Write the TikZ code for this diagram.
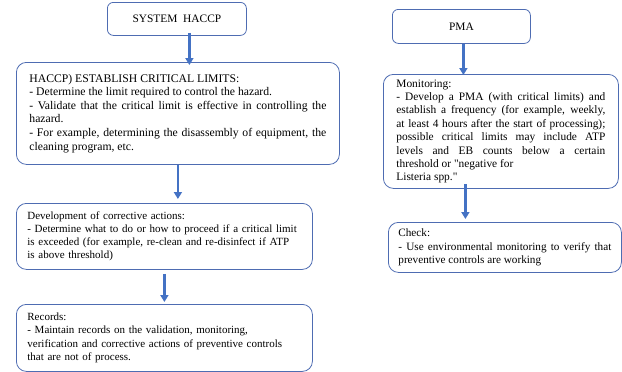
\documentclass[tikz,border=0pt]{standalone}
\usepackage{fontspec}
\setmainfont{Liberation Serif}[Ligatures=TeXOff]
\usetikzlibrary{%
	arrows.meta,%
	calc
}
\definecolor{haccpblue}{RGB}{68,114,196}
\definecolor{boxline}{RGB}{78,108,178}

\tikzset{
	stepbox/.style={draw=boxline,line width=0.8pt,rounded corners=10pt,
		anchor=north west,inner ysep=0pt,font=\fontsize{11.4}{13.4}\selectfont},
	smalltext/.style={font=\fontsize{11}{13.2}\selectfont},
	bigtext/.style={font=\fontsize{11.7}{13.6}\selectfont},
	flow/.style={haccpblue,line width=2.6pt,-{Triangle[width=8pt,length=7pt]}}
}

\begin{document}
\begin{tikzpicture}[x=1pt,y=-1pt]
		\useasboundingbox (0,0) rectangle (622,372);
		% Left column: HACCP
		\node[stepbox,rounded corners=6pt,minimum width=139pt,minimum height=33pt,inner xsep=0pt] (sys) at (107,2) {SYSTEM\ \ HACCP};
		\node[stepbox,bigtext,minimum width=323pt,minimum height=102pt,inner xsep=13pt,text width=297pt,align=justify] (est) at (16,62)
			{HACCP) ESTABLISH CRITICAL LIMITS:\\
			- Determine the limit required to control the hazard.\\
			- Validate that the critical limit is effective in controlling the\linebreak
			hazard.\\
			- For example, determining the disassembly of equipment, the\linebreak
			cleaning program, etc.};
		\node[stepbox,smalltext,minimum width=296pt,minimum height=66pt,inner xsep=11pt,text width=274pt,align=left] (corr) at (16,203)
			{Development of corrective actions:\\
			- Determine what to do or how to proceed if a critical limit\\
			is exceeded (for example, re-clean and re-disinfect if ATP\\
			is above threshold)};
		\node[stepbox,smalltext,minimum width=296pt,minimum height=67pt,inner xsep=11pt,text width=274pt,align=left] (rec) at (16,304)
			{Records:\\
			- Maintain records on the validation, monitoring,\\
			verification and corrective actions of preventive controls\\
			that are not of process.};
		
		% Right column: PMA
		\node[stepbox,rounded corners=6pt,minimum width=138pt,minimum height=34pt,inner xsep=0pt] (pma) at (392,9) {PMA};
		\node[stepbox,minimum width=235pt,minimum height=114pt,inner xsep=13pt,text width=209pt,align=justify] (mon) at (383,74)
			{Monitoring:\\
			- Develop a PMA (with critical limits) and\linebreak
			establish a frequency (for example, weekly,\linebreak
			at least 4 hours after the start of processing);\linebreak
			possible critical limits may include ATP\linebreak
			levels and EB counts below a certain\linebreak
			threshold or "negative for\\
			Listeria spp."};
		\node[stepbox,font=\fontsize{11.2}{13.6}\selectfont,minimum width=233pt,minimum height=50pt,inner xsep=10pt,text width=213pt,align=justify] (chk) at (388,222)
			{Check:\\
			- Use environmental monitoring to verify that\linebreak
			preventive controls are working};
		
		% Arrows
		\draw[flow] ([xshift=12.5pt,yshift=3pt]sys.south) -- ([xshift=12.5pt,yshift=-3pt]sys.south |- est.north);
		\draw[flow] (est.south) -- ([yshift=4pt]est.south |- corr.north);
		\draw[flow] ([yshift=-4pt]corr.south) -- ([yshift=2pt]corr.south |- rec.north);
		\draw[flow] ([xshift=2pt]pma.south) -- ([xshift=2pt,yshift=-1pt]pma.south |- mon.north);
		\draw[flow] ([xshift=-35.5pt,yshift=5pt]mon.south) -- ([xshift=-35.5pt,yshift=3pt]mon.south |- chk.north);
	\end{tikzpicture}
\end{document}
